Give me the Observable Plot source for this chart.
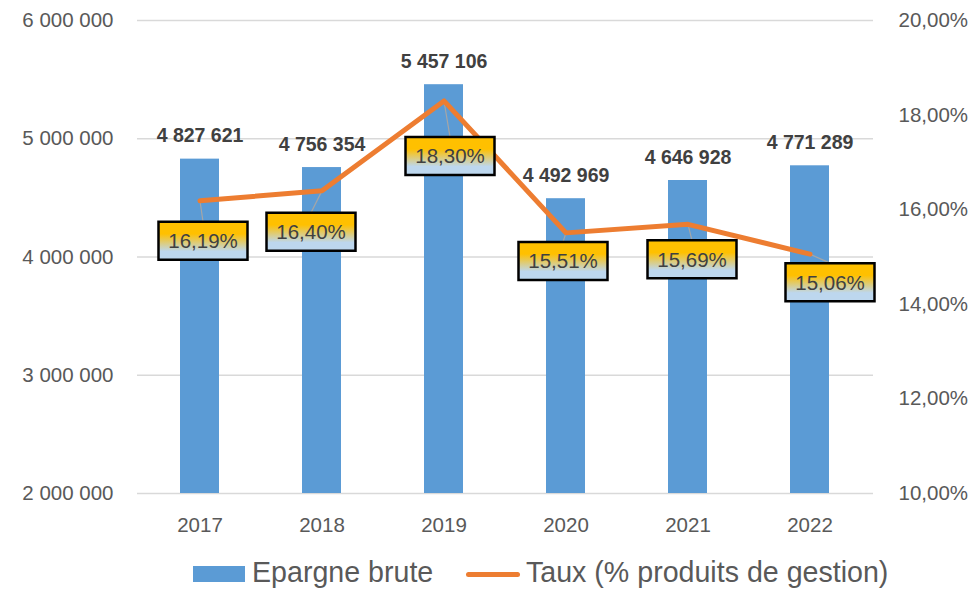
<!DOCTYPE html>
<html><head><meta charset="utf-8">
<script src="https://cdn.jsdelivr.net/npm/d3@7"></script>
<script src="https://cdn.jsdelivr.net/npm/@observablehq/plot@0.6"></script>
<style>
body{margin:0;background:#fff;}
#chart{position:relative;width:972px;height:590px;font-family:"Liberation Sans",Arial,sans-serif;}
.legend{position:relative;width:972px;height:42px;color:#595959;font-size:28.6px;}
.legend .sw{position:absolute;}
.legend .lab{position:absolute;top:8px;line-height:33px;height:33px;white-space:nowrap;}
</style></head><body><div id="chart"></div><script>
// ---- data ----
const years = ["2017", "2018", "2019", "2020", "2021", "2022"];
const epargne = [4827621, 4756354, 5457106, 4492969, 4646928, 4771289];
const taux = [16.19, 16.40, 18.30, 15.51, 15.69, 15.06];
const leftTicks = [2000000, 3000000, 4000000, 5000000, 6000000];
const rightTicks = [10, 12, 14, 16, 18, 20];
const seriesNames = ["Epargne brute", "Taux (% produits de gestion)"];

// ---- layout (label nudges, px from line point) ----
const labelNudge = [[3, 40], [-11, 41], [6, 55], [-3, 28], [4, 35], [20, 28]];

const BLUE = "#5B9BD5", ORANGE = "#ED7D31";
const loc = d3.formatLocale({decimal: ",", thousands: "\u00a0", grouping: [3], currency: ["", " €"]});
const fmtInt = loc.format(",d");
const fmtPct = v => loc.format(".2f")(v) + "%";

const yMin = leftTicks[0], yMax = leftTicks[leftTicks.length - 1];
const pMin = rightTicks[0], pMax = rightTicks[rightTicks.length - 1];
const pctToY = p => yMin + (p - pMin) / (pMax - pMin) * (yMax - yMin);

const rows = years.map((year, i) => ({year, value: epargne[i], pct: taux[i], py: pctToY(taux[i])}));
const rightTickY = rightTicks.map(pctToY);
const rightLabel = new Map(rightTicks.map((p, i) => [rightTickY[i], fmtPct(p)]));

const BW = 89, BH = 38;
const boxSymbol = (dx, dy) => ({draw(ctx) { ctx.rect(dx - BW / 2, dy - BH / 2, BW, BH); }});
const leaderSymbol = (dx, dy) => ({draw(ctx) { ctx.moveTo(0, 0); ctx.lineTo(dx, dy - BH / 2); }});

const labelMarks = rows.flatMap((r, i) => {
  const [dx, dy] = labelNudge[i];
  return [
    Plot.dot([r], {x: "year", y: "py", symbol: leaderSymbol(dx, dy), r: 5, fill: "none", stroke: "#A6A6A6", strokeWidth: 1.2})
  ];
});
const boxMarks = rows.flatMap((r, i) => {
  const [dx, dy] = labelNudge[i];
  return [
    Plot.dot([r], {x: "year", y: "py", symbol: boxSymbol(dx, dy), r: 5, fill: "url(#pctGrad)", stroke: "#000", strokeWidth: 2.5}),
    Plot.text([r], {x: "year", y: "py", text: d => fmtPct(d.pct), dx, dy: dy + 1, fontSize: 20.5, fill: "#404040"})
  ];
});

const chart = Plot.plot({
  width: 972,
  height: 548,
  marginTop: 20,
  marginBottom: 55,
  marginLeft: 137,
  marginRight: 99,
  style: {fontFamily: "'Liberation Sans', Arial, sans-serif", fontSize: "20px", background: "white", overflow: "visible"},
  x: {type: "band", domain: years, paddingInner: 0.68, paddingOuter: 0.34, label: null},
  y: {domain: [yMin, yMax], label: null},
  marks: [
    Plot.gridY(leftTicks, {stroke: "#D9D9D9", strokeOpacity: 1, strokeWidth: 1.3}),
    Plot.axisY(leftTicks, {anchor: "left", tickSize: 0, tickPadding: 24, tickFormat: fmtInt, fontSize: 20.5, color: "#595959", label: null}),
    Plot.axisY(rightTickY, {anchor: "right", tickSize: 0, tickPadding: 25, tickFormat: v => rightLabel.get(v), fontSize: 20.5, color: "#595959", label: null}),
    Plot.axisX({tickSize: 0, tickPadding: 24, fontSize: 20.5, color: "#595959", label: null}),
    Plot.barY(rows, {x: "year", y1: yMin, y2: "value", fill: BLUE}),
    Plot.text(rows, {x: "year", y: "value", text: d => fmtInt(d.value), dy: -23, fontWeight: "bold", fontSize: 19.5, fill: "#404040"}),
    ...labelMarks,
    Plot.line(rows, {x: "year", y: "py", stroke: ORANGE, strokeWidth: 5, strokeLinejoin: "round", strokeLinecap: "round"}),
    ...boxMarks
  ]
});

const svg = d3.select(chart);
const grad = svg.insert("defs", ":first-child").append("linearGradient")
  .attr("id", "pctGrad").attr("x1", 0).attr("y1", 0).attr("x2", 0).attr("y2", 1);
[[0, "#FFC000"], [0.32, "#FFC000"], [0.78, "#BDD7EE"], [1, "#BDD7EE"]].forEach(([o, c]) =>
  grad.append("stop").attr("offset", o).attr("stop-color", c));

const root = document.getElementById("chart");
root.appendChild(chart);

const legend = document.createElement("div");
legend.className = "legend";
legend.innerHTML = `
  <div class="sw" style="left:193px;top:18px;width:52px;height:16px;background:${BLUE}"></div>
  <div class="lab" style="left:252px">${seriesNames[0]}</div>
  <div class="sw" style="left:466px;top:23.5px;width:54px;height:5px;border-radius:2.5px;background:${ORANGE}"></div>
  <div class="lab" style="left:526px">${seriesNames[1]}</div>`;
root.appendChild(legend);
</script></body></html>
